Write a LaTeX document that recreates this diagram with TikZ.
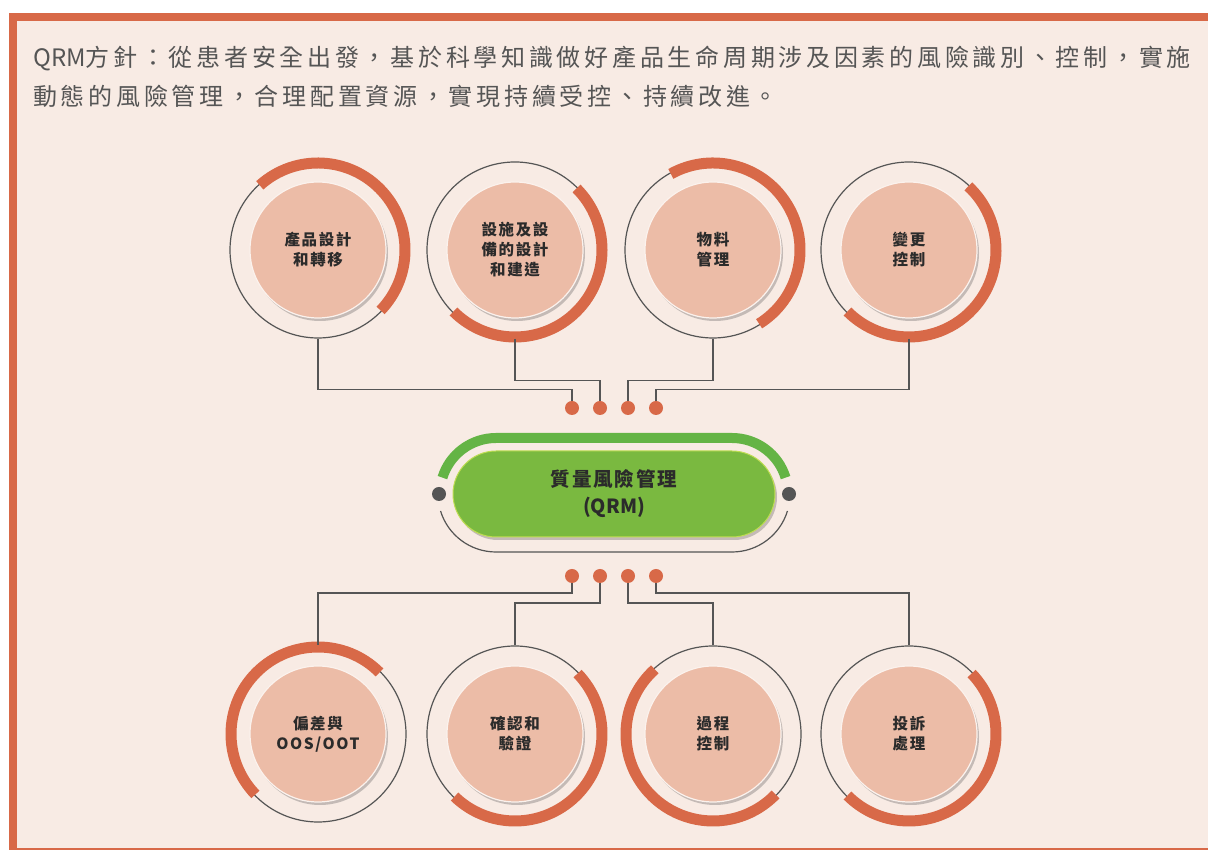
\documentclass[tikz,border=0pt]{standalone}
\usepackage{fontspec}
\usetikzlibrary{shadows}
\newfontfamily\headfont[LetterSpace=15.5]{Noto Sans CJK TC}
\newfontfamily\lblfont[LetterSpace=10]{Noto Sans CJK TC}
\newfontfamily\plainfont{Noto Sans CJK TC}
\definecolor{paper}{HTML}{F8EBE4}
\definecolor{rust}{HTML}{D86948}
\definecolor{salmon}{HTML}{ECBCA7}
\definecolor{ringgrey}{HTML}{555555}
\definecolor{leaf}{HTML}{64B445}
\definecolor{pillgreen}{HTML}{7AB940}
\definecolor{ink}{HTML}{2B2B2B}
\begin{document}
\begin{tikzpicture}[x=1pt,y=1pt,
    disk/.style={circle, fill=salmon, draw=white!80!salmon, line width=1.2pt,
      minimum size=136pt, inner sep=0pt, align=center, text=ink,
      font=\lblfont\bfseries\fontsize{15.5}{20}\selectfont,
      drop shadow={shadow xshift=2pt, shadow yshift=-3pt, opacity=.3, fill=black!70}},
    ring/.style={circle, draw=ringgrey, line width=1.2pt, minimum size=176pt, inner sep=0pt},
    hilite/.style={draw=rust, line width=11pt},
    wire/.style={draw=ringgrey, line width=1.2pt},
    dot/.style={circle, fill=rust, minimum size=14pt, inner sep=0pt},
    knob/.style={circle, fill=ringgrey, minimum size=14pt, inner sep=0pt},
    leafarc/.style={draw=leaf, line width=10pt},
    pill/.style={rectangle, rounded corners=43pt, minimum width=322pt, minimum height=86pt,
      fill=pillgreen, draw=pillgreen!60!yellow!80!white, line width=1pt, align=center, text=ink,
      font=\lblfont\bfseries\fontsize{19.5}{27}\selectfont,
      drop shadow={shadow xshift=2pt, shadow yshift=-3pt, opacity=.3, fill=black!70}}]

  \useasboundingbox (0,0) rectangle (1208,851);

  % frame
  \fill[paper] (9,1) rectangle (1208,838);
  \fill[rust] (9,830) rectangle (1208,838);
  \fill[rust] (9,1) rectangle (17,838);
  \fill[rust] (9,1) rectangle (1208,3);

  \node[anchor=west, inner sep=0pt, align=left, text=ink!80,
    font=\headfont\fontsize{24}{39}\selectfont] (head) at (33,774)
    {{\plainfont QRM}方針：從患者安全出發，基於科學知識做好產品生命周期涉及因素的風險識別、控制，實施\\
     動態的風險管理，合理配置資源，實現持續受控、持續改進。};

  % top row
  \begin{scope}[every node/.style={ring}]
    \node (prodring)  at (318,601) {};
    \node (facilring) at (515,601) {};
    \node (matlring)  at (713,601) {};
    \node (chgring)   at (909,601) {};
  \end{scope}
  \draw[hilite] ([shift={(132:87)}]prodring.center) arc[start angle=132, end angle=-44, radius=87];
  \draw[hilite] ([shift={(45:87)}]facilring.center) arc[start angle=45, end angle=-135, radius=87];
  \draw[hilite] ([shift={(119:87)}]matlring.center) arc[start angle=119, end angle=-58, radius=87];
  \draw[hilite] ([shift={(47:87)}]chgring.center) arc[start angle=47, end angle=-135, radius=87];

  \begin{scope}[every node/.style={disk}]
    \node (prod)  at (prodring)  {產品設計\\和轉移};
    \node (facil) at (facilring) {設施及設\\備的設計\\和建造};
    \node (matl)  at (matlring)  {物料\\管理};
    \node (chg)   at (chgring)   {變更\\控制};
  \end{scope}

  % bottom row
  \begin{scope}[every node/.style={ring}]
    \node (devring)   at (318,117) {};
    \node (validring) at (515,117) {};
    \node (procring)  at (713,117) {};
    \node (cmplring)  at (909,117) {};
  \end{scope}
  \draw[hilite] ([shift={(45:87)}]devring.center) arc[start angle=45, end angle=224, radius=87];
  \draw[hilite] ([shift={(44:87)}]validring.center) arc[start angle=44, end angle=-134, radius=87];
  \draw[hilite] ([shift={(132:87)}]procring.center) arc[start angle=132, end angle=316, radius=87];
  \draw[hilite] ([shift={(44:87)}]cmplring.center) arc[start angle=44, end angle=-135, radius=87];

  \begin{scope}[every node/.style={disk}]
    \node (dev)   at (devring)   {偏差與\\OOS/OOT};
    \node (valid) at (validring) {確認和\\驗證};
    \node (proc)  at (procring)  {過程\\控制};
    \node (cmpl)  at (cmplring)  {投訴\\處理};
  \end{scope}

  % dots
  \begin{scope}[every node/.style={dot}]
    \node (t1) at (572,443) {};
    \node (t2) at (600,443) {};
    \node (t3) at (628,443) {};
    \node (t4) at (656,443) {};
    \node (b1) at (572,275) {};
    \node (b2) at (600,275) {};
    \node (b3) at (628,275) {};
    \node (b4) at (656,275) {};
  \end{scope}

  % centre
  \draw[leafarc] (496,357) ++(163:56) arc[start angle=163, end angle=90, radius=56]
    -- ++(236,0) arc[start angle=90, end angle=17, radius=56];
  \draw[wire] (496,357) ++(197:58) arc[start angle=197, end angle=270, radius=58]
    -- ++(236,0) arc[start angle=270, end angle=343, radius=58];
  \node[knob] (knobl) at (439,357) {};
  \node[knob] (knobr) at (789,357) {};
  \node[pill] (qrm) at (614,357) {質量風險管理\\{\plainfont\bfseries (QRM)}};

  % wires
  \draw[wire] (prodring.south)  -- ++(0,-51) -| (t1);
  \draw[wire] (facilring.south) -- ++(0,-42) -| (t2);
  \draw[wire] (matlring.south)  -- ++(0,-42) -| (t3);
  \draw[wire] (chgring.south)   -- ++(0,-51) -| (t4);
  \draw[wire] (b1) -- ++(0,-17) -| (devring.north);
  \draw[wire] (b2) -- ++(0,-27) -| (validring.north);
  \draw[wire] (b3) -- ++(0,-27) -| (procring.north);
  \draw[wire] (b4) -- ++(0,-17) -| (cmplring.north);

\end{tikzpicture}
\end{document}
